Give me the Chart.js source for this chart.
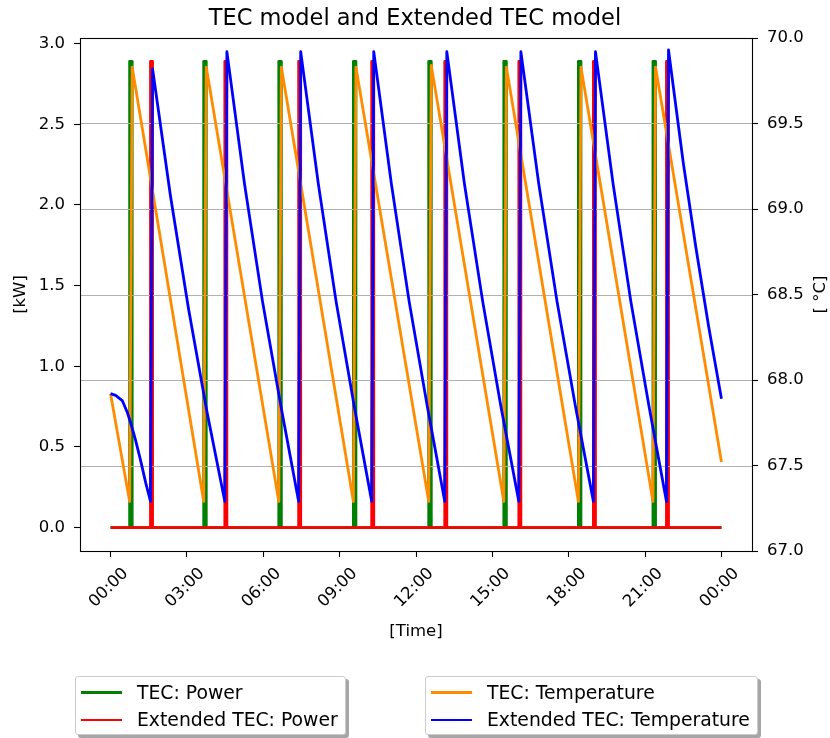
<!DOCTYPE html>
<html>
<head>
<meta charset="utf-8">
<title>TEC model and Extended TEC model</title>
<script src="https://cdn.jsdelivr.net/npm/chart.js@4.4.1/dist/chart.umd.min.js"></script>
<style>
  html, body { margin: 0; padding: 0; background: #ffffff; }
  #wrap { position: relative; width: 830px; height: 738px; overflow: hidden; }
  #chart { position: absolute; left: 0; top: 0; }
  .legend {
    position: absolute; top: 676px; height: 59px; box-sizing: border-box;
    background: #ffffff; border: 1px solid #cccccc; border-radius: 3px;
    box-shadow: 3px 3px 0 rgba(0, 0, 0, 0.35);
    font-family: "DejaVu Sans", sans-serif; font-size: 18.8px; color: #000;
  }
  .legend .row { position: absolute; left: 0; height: 24px; line-height: 24px; white-space: nowrap; }
  .legend .swatch { position: absolute; left: 5px; top: 10.6px; width: 41px; height: 2.8px; }
  .legend .label { position: absolute; left: 61px; top: 0; }
</style>
</head>
<body>
<div id="wrap">
  <canvas id="chart" width="830" height="738"></canvas>
  <div class="legend" id="legendPower" style="left:75px; width:271px;"></div>
  <div class="legend" id="legendTemp" style="left:425px; width:333px;"></div>
</div>
<script>
// ---- axis ticks ----
const timeTicks = [0, 3, 6, 9, 12, 15, 18, 21, 24];          // hours after midnight
const powerTicks = [0.0, 0.5, 1.0, 1.5, 2.0, 2.5, 3.0];        // kW
const tempTicks = [67.0, 67.5, 68.0, 68.5, 69.0, 69.5, 70.0];  // °C

// ---- TEC model: heater switching (on / off instants, hours) ----
const tecOn  = [0.75, 3.66, 6.61, 9.54, 12.50, 15.45, 18.38, 21.31];
const tecOff = [0.85, 3.76, 6.71, 9.64, 12.60, 15.55, 18.48, 21.41];
const tecPowerOn = 2.89;   // kW while switched on

// ---- Extended TEC model: heater switching ----
const extOn  = [1.57, 4.49, 7.39, 10.26, 13.13, 16.04, 18.97, 21.84];
const extOff = [1.65, 4.57, 7.47, 10.34, 13.21, 16.12, 19.05, 21.92];
const extPowerOn = 2.89;

// ---- TEC model temperature (°C): start, minimum at each switch-on, peak at each switch-off, end ----
const tecTempStart = 67.92;
const tecTempMin  = [67.29, 67.29, 67.29, 67.29, 67.29, 67.29, 67.29, 67.29];
const tecTempPeak = [69.83, 69.83, 69.83, 69.83, 69.84, 69.83, 69.83, 69.83];
const tecTempEnd = 67.52;

// ---- Extended TEC model temperature (°C) ----
// slow start of the cooling before the first switch-on
const extCoolTime0 = [0.00, 0.20, 0.46, 0.66, 0.79, 0.98, 1.18, 1.38];
const extCoolTemp0 = [67.92, 67.91, 67.88, 67.81, 67.75, 67.65, 67.53, 67.40];
const extTempMin  = [67.29, 67.29, 67.29, 67.29, 67.29, 67.29, 67.29, 67.29];
const extTempPeak = [69.82, 69.92, 69.92, 69.92, 69.92, 69.92, 69.92, 69.93];
// cooling curves after each switch-off (times and temperatures)
const extCoolTime = [
  [2.35, 3.06, 3.78],
  [5.26, 5.97, 6.69],
  [8.16, 8.86, 9.57],
  [11.03, 11.73, 12.44],
  [13.90, 14.62, 15.33],
  [16.82, 17.54, 18.26],
  [19.74, 20.44, 21.15],
  [22.50, 23.00, 23.50, 24.00]
];
const extCoolTemp = [
  [69.08, 68.42, 67.82],
  [69.15, 68.46, 67.85],
  [69.15, 68.46, 67.85],
  [69.15, 68.46, 67.85],
  [69.15, 68.46, 67.85],
  [69.15, 68.46, 67.85],
  [69.15, 68.46, 67.85],
  [69.27, 68.77, 68.31, 67.89]
];

// ---- build point lists ----
function powerSeries(on, off, level) {
  const pts = [{ x: 0, y: 0 }];
  on.forEach((t, i) => {
    pts.push({ x: t, y: 0 }, { x: t, y: level }, { x: off[i], y: level }, { x: off[i], y: 0 });
  });
  pts.push({ x: 24, y: 0 });
  return pts;
}

const tecTempPts = [{ x: 0, y: tecTempStart }];
tecOn.forEach((t, i) => {
  tecTempPts.push({ x: t, y: tecTempMin[i] }, { x: tecOff[i], y: tecTempPeak[i] });
});
tecTempPts.push({ x: 24, y: tecTempEnd });

const extTempPts = extCoolTime0.map((t, i) => ({ x: t, y: extCoolTemp0[i] }));
extOn.forEach((t, i) => {
  extTempPts.push({ x: t, y: extTempMin[i] }, { x: extOff[i], y: extTempPeak[i] });
  extCoolTime[i].forEach((ct, j) => extTempPts.push({ x: ct, y: extCoolTemp[i][j] }));
});

const FONT = '"DejaVu Sans", "Liberation Sans", sans-serif';
const tickFont = { family: FONT, size: 16.5 };

function hhmm(v) {
  const h = Math.round(v) % 24;
  return (h < 10 ? '0' : '') + h + ':00';
}

// gridlines of the temperature axis sit above the power traces, below the temperature traces
const tempGrid = {
  id: 'tempGrid',
  beforeDatasetDraw(chart, args) {
    if (args.index !== 2) return;
    const { ctx, chartArea } = chart;
    const s = chart.scales.y2;
    ctx.save();
    ctx.strokeStyle = '#b0b0b0';
    ctx.lineWidth = 1.1;
    tempTicks.forEach(v => {
      const y = Math.round(s.getPixelForValue(v)) + 0.5;
      ctx.beginPath();
      ctx.moveTo(chartArea.left, y);
      ctx.lineTo(chartArea.right, y);
      ctx.stroke();
    });
    ctx.restore();
  }
};

// axes frame and right-hand axis title
const frame = {
  id: 'frame',
  afterDraw(chart) {
    const { ctx, chartArea } = chart;
    ctx.save();
    ctx.strokeStyle = '#000';
    ctx.lineWidth = 1.1;
    ctx.strokeRect(Math.round(chartArea.left) + 0.5, Math.round(chartArea.top) + 0.5,
      Math.round(chartArea.right - chartArea.left), Math.round(chartArea.bottom - chartArea.top));
    ctx.translate(821, (chartArea.top + chartArea.bottom) / 2);
    ctx.rotate(-Math.PI / 2);
    ctx.font = '16.5px ' + FONT;
    ctx.fillStyle = '#000';
    ctx.textAlign = 'center';
    ctx.textBaseline = 'middle';
    ctx.fillText('[ \u00B0C]', 0, 0);
    ctx.restore();
  }
};

const tickGrid = {
  display: true, drawOnChartArea: false, drawTicks: true,
  tickLength: 6, tickColor: '#000', tickWidth: 1.1, color: '#000'
};

new Chart(document.getElementById('chart'), {
  type: 'line',
  data: {
    datasets: [
      { label: 'TEC: Power', data: powerSeries(tecOn, tecOff, tecPowerOn), yAxisID: 'y',
        borderColor: '#008000', order: 4 },
      { label: 'Extended TEC: Power', data: powerSeries(extOn, extOff, extPowerOn), yAxisID: 'y',
        borderColor: '#ff0000', order: 3 },
      { label: 'TEC: Temperature', data: tecTempPts, yAxisID: 'y2',
        borderColor: '#ff8c00', order: 2 },
      { label: 'Extended TEC: Temperature', data: extTempPts, yAxisID: 'y2',
        borderColor: '#0000ff', order: 1 }
    ]
  },
  options: {
    responsive: false,
    animation: false,
    devicePixelRatio: 1,
    parsing: false,
    layout: { padding: 0 },
    elements: {
      point: { radius: 0 },
      line: { borderWidth: 2.8, tension: 0, borderJoinStyle: 'round', borderCapStyle: 'butt', fill: false }
    },
    plugins: {
      legend: { display: false },
      tooltip: { enabled: false },
      title: {
        display: true,
        text: 'TEC model and Extended TEC model',
        color: '#000',
        font: { family: FONT, size: 22.5, weight: 'normal', lineHeight: 1.2 },
        padding: { top: 5.5, bottom: 5.5 }
      }
    },
    scales: {
      x: {
        type: 'linear', position: 'bottom', min: -1.2, max: 25.2,
        afterBuildTicks: s => { s.ticks = timeTicks.map(v => ({ value: v })); },
        afterFit: s => { s.height = 187; },
        ticks: { callback: v => hhmm(v), color: '#000', font: tickFont,
          autoSkip: false, maxRotation: 45, minRotation: 45, padding: 7, labelOffset: 15 },
        grid: tickGrid,
        border: { display: false },
        title: { display: true, text: '[Time]', color: '#000', font: { family: FONT, size: 16.5 },
          padding: { top: 0, bottom: 96 } }
      },
      y: {
        position: 'left', min: -0.1445, max: 3.0345,
        afterBuildTicks: s => { s.ticks = powerTicks.map(v => ({ value: v })); },
        afterFit: s => { s.width = 80; },
        ticks: { callback: v => v.toFixed(1), color: '#000', font: tickFont, padding: 9 },
        grid: tickGrid,
        border: { display: false },
        title: { display: true, text: '[kW]', color: '#000', font: { family: FONT, size: 16.5 },
          padding: { top: 11, bottom: 0 } }
      },
      y2: {
        position: 'right', min: 67, max: 70,
        afterBuildTicks: s => { s.ticks = tempTicks.map(v => ({ value: v })); },
        afterFit: s => { s.width = 78; },
        ticks: { callback: v => v.toFixed(1), color: '#000', font: tickFont, padding: 9 },
        grid: tickGrid,
        border: { display: false }
      }
    }
  },
  plugins: [tempGrid, frame]
});

// ---- legends ----
function buildLegend(id, items) {
  const box = document.getElementById(id);
  items.forEach((it, i) => {
    const row = document.createElement('div');
    row.className = 'row';
    row.style.top = (3.5 + i * 27.5) + 'px';
    const sw = document.createElement('div');
    sw.className = 'swatch';
    sw.style.background = it.color;
    const lb = document.createElement('div');
    lb.className = 'label';
    lb.textContent = it.text;
    row.appendChild(sw);
    row.appendChild(lb);
    box.appendChild(row);
  });
}
buildLegend('legendPower', [
  { text: 'TEC: Power', color: '#008000' },
  { text: 'Extended TEC: Power', color: '#ff0000' }
]);
buildLegend('legendTemp', [
  { text: 'TEC: Temperature', color: '#ff8c00' },
  { text: 'Extended TEC: Temperature', color: '#0000ff' }
]);
</script>
</body>
</html>
